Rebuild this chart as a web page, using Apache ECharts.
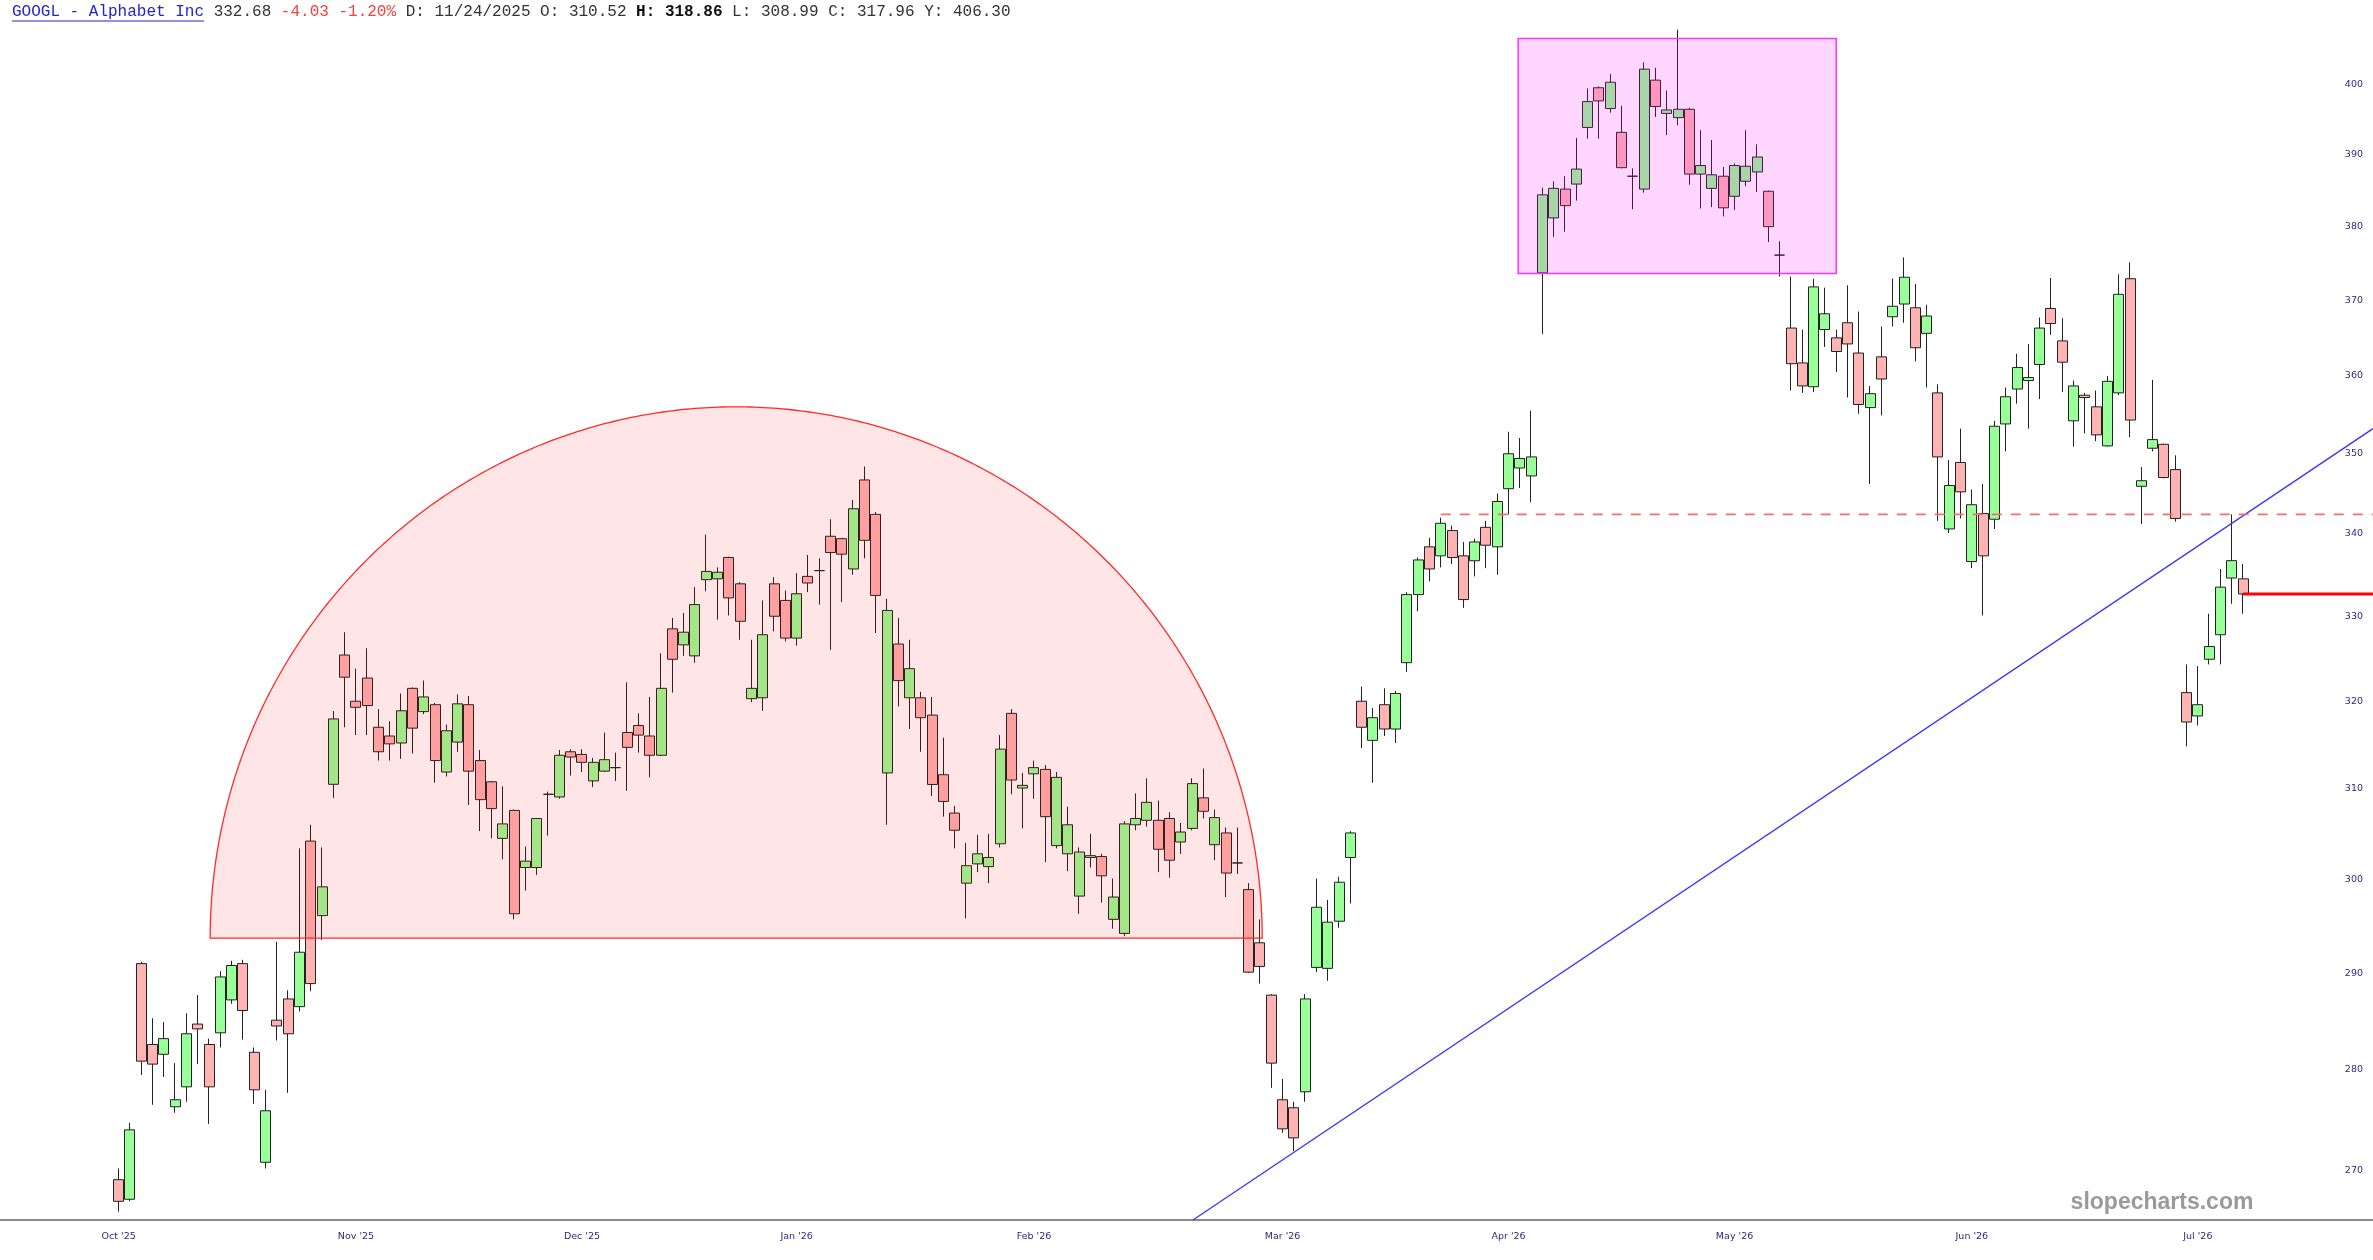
<!DOCTYPE html>
<html><head><meta charset="utf-8">
<script src="https://cdn.jsdelivr.net/npm/echarts@6/dist/echarts.min.js"></script>
<style>html,body{margin:0;padding:0;background:#fff}#c{width:2373px;height:1260px}</style>
</head><body><div id="c"></div>
<script>
// ---- data (candle index 0 = first session shown) ----
const open = [
269.1,267.2,291.0,282.6,281.6,276.3,278.3,284.7,282.6,283.8,
287.2,291.0,281.8,270.8,285.1,287.3,286.5,304.2,296.1,310.52,
325.4,320.0,322.7,317.0,316.0,315.2,321.5,318.8,319.6,311.9,
315.3,319.6,313.2,310.8,304.5,307.6,301.3,301.3,309.4,309.1,
314.2,313.9,310.9,312.0,312.4,316.4,317.2,316.0,313.8,328.5,
326.6,325.3,334.4,334.5,337.1,333.9,320.3,320.4,333.9,331.9,
327.4,334.8,335.5,339.7,339.4,335.7,346.7,342.4,311.8,326.7,
320.4,320.4,318.4,311.6,307.3,299.6,301.7,301.4,303.9,318.6,
310.1,311.7,312.2,303.7,302.8,298.2,302.4,302.5,295.7,294.2,
306.0,306.5,306.5,306.7,304.1,305.6,309.0,303.8,305.1,301.8,
298.9,293.2,287.7,277.0,276.2,277.8,290.6,290.5,295.5,302.4,
320.0,315.5,319.6,316.8,324.5,332.6,338.4,337.3,340.4,337.3,
336.7,340.8,338.4,345.6,348.2,347.2,373.7,381.2,385.2,385.9,
393.9,399.6,396.6,393.2,387.0,385.2,400.7,395.9,395.3,396.5,
387.3,385.3,387.0,384.2,386.3,387.6,384.9,376.1,366.3,361.7,
358.6,366.1,365.0,367.0,363.0,355.9,362.5,367.8,369.5,369.0,
365.6,357.8,340.6,348.9,336.6,342.5,341.8,353.8,358.3,359.4,
361.5,368.9,364.6,354.2,357.5,356.0,351.0,357.8,372.9,345.9,
350.7,351.2,348.0,321.0,318.3,324.9,327.8,334.6,334.5];
const close = [
267.0,274.0,280.9,280.6,283.2,277.0,283.7,284.2,278.3,289.6,
290.8,286.1,278.0,275.9,284.5,283.7,292.2,288.9,299.2,317.96,
322.8,319.3,319.5,314.2,315.1,318.9,316.9,320.5,313.2,316.6,
319.7,312.0,308.8,307.8,306.1,296.3,302.0,306.7,309.4,313.8,
313.6,313.0,313.0,313.3,312.4,314.7,316.1,313.8,321.5,324.9,
328.1,331.4,335.4,335.3,332.2,329.4,321.5,327.8,330.0,327.4,
332.7,334.0,335.5,337.7,337.5,343.1,339.2,332.5,330.7,322.4,
323.8,318.1,310.5,308.6,305.4,301.5,302.8,302.4,314.5,311.0,
310.4,312.4,306.9,311.3,306.0,303.0,302.6,300.4,298.1,306.1,
306.7,308.5,303.3,302.1,305.2,310.6,307.5,306.8,300.7,301.8,
290.1,290.7,280.7,274.1,273.2,287.3,297.0,295.4,299.7,305.1,
317.0,318.1,316.8,320.9,332.6,336.8,335.7,341.3,337.1,332.0,
339.0,338.6,344.0,350.0,349.4,349.6,384.4,385.3,382.9,388.0,
397.6,397.7,400.4,388.2,387.0,402.3,396.9,396.4,396.5,387.3,
388.5,387.2,382.6,388.5,388.4,389.7,380.0,376.1,361.6,358.7,
371.8,368.2,363.2,364.2,356.3,357.7,359.6,369.2,373.1,363.7,
367.9,349.6,346.0,345.2,343.6,337.3,353.5,357.3,361.1,359.8,
366.3,366.9,361.8,358.7,357.2,352.4,359.3,370.8,354.3,346.6,
351.8,347.0,341.9,317.6,319.6,326.4,333.5,336.71,332.68];
const low = [
266.0,267.0,279.5,276.5,279.3,275.7,276.8,280.6,274.6,282.3,
286.8,283.1,276.6,270.2,283.0,277.7,286.0,288.1,293.5,308.99,
317.0,316.1,316.1,313.2,313.2,313.4,314.0,318.5,310.7,311.4,
314.2,308.2,305.3,304.5,302.2,295.7,298.8,300.5,304.8,308.9,
311.5,311.9,310.2,311.9,310.9,309.8,314.1,311.3,313.7,321.0,
325.3,324.5,333.0,329.6,330.1,327.2,319.9,318.9,328.2,327.0,
326.5,332.9,331.4,326.0,331.7,335.0,337.0,328.0,306.0,319.4,
316.8,314.2,309.2,306.9,303.4,295.8,300.8,299.6,303.5,309.4,
305.6,308.9,301.9,303.4,300.9,296.3,301.3,297.5,294.7,293.9,
305.4,305.8,300.8,300.2,302.8,305.4,306.7,302.1,298.1,300.6,
290.0,288.9,278.2,273.7,271.9,276.8,290.1,289.2,294.8,297.4,
314.6,310.7,316.0,315.2,323.4,330.6,334.2,335.9,336.3,331.0,
334.8,335.8,335.0,342.4,345.7,343.9,365.5,378.6,379.3,383.6,
392.3,392.3,396.0,388.1,382.4,384.7,395.4,392.8,394.2,385.8,
382.5,382.7,381.4,382.3,385.6,384.8,377.9,373.2,358.1,357.8,
357.9,363.8,360.5,357.2,355.1,346.2,354.9,366.5,367.0,361.9,
358.5,341.6,340.1,341.9,335.8,330.1,340.6,350.3,356.4,353.2,
357.0,365.4,357.9,350.9,352.6,351.6,350.9,357.5,352.1,341.2,
350.3,346.9,341.5,314.8,317.2,324.3,324.3,331.5,330.3];
const high = [
270.2,274.7,291.2,285.3,284.9,280.7,285.8,287.7,283.2,290.2,
291.3,291.4,282.3,278.0,293.3,288.2,303.4,306.0,303.5,318.86,
328.1,323.8,326.2,319.1,317.7,320.9,321.6,322.4,319.8,317.3,
320.8,320.6,314.4,310.9,310.3,307.7,303.6,306.7,309.7,314.4,
314.5,314.5,313.5,316.4,314.1,322.2,318.6,320.5,325.6,329.8,
330.4,333.5,339.9,335.9,337.2,334.1,327.2,331.9,334.7,333.1,
335.2,337.4,337.0,341.8,339.5,344.2,348.4,342.7,332.1,329.8,
327.2,321.1,320.5,315.8,308.1,304.0,304.9,305.0,316.1,319.1,
311.8,313.2,312.7,311.9,308.0,303.5,305.0,302.8,300.1,306.4,
309.5,311.2,308.7,307.4,306.2,311.2,312.3,307.7,305.7,305.7,
299.6,295.7,287.8,279.1,276.8,287.8,300.1,297.8,300.3,305.3,
321.7,319.2,321.5,321.2,332.9,337.1,339.5,342.0,341.0,339.0,
339.4,341.6,345.0,352.8,352.0,355.5,385.4,386.3,387.0,392.4,
399.5,399.8,401.6,397.0,388.1,403.3,402.5,399.2,408.1,396.7,
393.5,392.1,388.3,388.8,393.5,391.5,385.0,378.0,373.2,366.1,
372.9,371.7,366.1,372.0,368.5,358.7,366.5,372.9,375.8,372.2,
369.4,358.9,349.2,353.2,345.5,346.2,354.2,358.5,362.9,364.2,
367.7,373.0,367.6,359.4,357.8,358.1,360.0,373.5,375.1,348.3,
359.5,351.3,349.8,324.3,324.1,330.3,335.7,342.4,336.3];
const monthTicks = [["Oct '25",0],["Nov '25",21],["Dec '25",41],["Jan '26",60],["Feb '26",81],
  ["Mar '26",103],["Apr '26",123],["May '26",143],["Jun '26",164],["Jul '26",184]];
const yTicks = [270,280,290,300,310,320,330,340,350,360,370,380,390,400];
// annotations (candle index, price)
const semicircle = {left: 8.1, right: 101.2, base: 293.7, top: 356.0};
const box = {left: 123.85, right: 152.0, top: 406.8, bottom: 373.6};
const trend = [[95.07, 265.2], [199.5, 353.2]];
const resistance = {from: 117.0, to: 199.5, price: 342.4};
const lastLine = {from: 188, to: 199.5, price: 332.68};

const PAD_LEFT = 10, PAD_RIGHT = 11;
const N = open.length;
const categories = [];
for (let i = 0; i < PAD_LEFT + N + PAD_RIGHT; i++) categories.push('c' + (i - PAD_LEFT));
const labelMap = {};
monthTicks.forEach(t => { labelMap[t[1] + PAD_LEFT] = t[0]; });
const candleData = open.map((o, i) => [i + PAD_LEFT, o, close[i], low[i], high[i]]);

const chart = echarts.init(document.getElementById('c'), null, {width: 2373, height: 1260});
const MONO = '"Liberation Mono", "DejaVu Sans Mono", monospace';
chart.setOption({
  animation: false,
  backgroundColor: '#ffffff',
  grid: {left: 0, right: 0, top: 0, bottom: 40, containLabel: false},
  xAxis: {
    type: 'category', data: categories, boundaryGap: true,
    axisLine: {show: true, lineStyle: {color: '#8a8a8a', width: 2}},
    axisTick: {show: false}, splitLine: {show: false},
    axisLabel: {
      interval: (idx) => labelMap[idx] !== undefined,
      formatter: (v, idx) => labelMap[idx] || '',
      color: '#2a2a80', fontSize: 9.5, fontFamily: '"DejaVu Sans", sans-serif', margin: 12
    }
  },
  yAxis: {
    type: 'log', logBase: 10, min: 265.2, max: 412.5, position: 'right',
    axisLine: {show: false}, axisTick: {show: false}, splitLine: {show: false},
    axisLabel: {inside: true, margin: 10, customValues: yTicks, color: '#2a2a80',
      fontSize: 9.5, fontFamily: '"DejaVu Sans", sans-serif'}
  },
  series: [
    {
      type: 'candlestick', data: candleData, encode: {x: 0, y: [1, 2, 3, 4]},
      barWidth: 10.5, z: 2,
      itemStyle: {color: '#99ff99', color0: '#ffb3b3', borderColor: '#222222', borderColor0: '#222222', borderWidth: 1}
    },
    {
      type: 'custom', z: 5, silent: true, clip: false,
      data: [[PAD_LEFT, 300]], encode: {x: 0, y: 1},
      renderItem: function (params, api) {
        const bw = api.size([1, 0], [PAD_LEFT, 300])[0];
        function pt(idx, price) {
          const i = idx + PAD_LEFT, i0 = Math.floor(i);
          const p = api.coord([i0, price]);
          return [p[0] + (i - i0) * bw, p[1]];
        }
        const children = [];
        // semicircle
        const xl = pt(semicircle.left, semicircle.base)[0];
        const xr = pt(semicircle.right, semicircle.base)[0];
        const yb = pt(0, semicircle.base)[1];
        const yt = pt(0, semicircle.top)[1];
        const cx = (xl + xr) / 2, rx = (xr - xl) / 2, ry = yb - yt;
        const pts = [];
        for (let k = 0; k <= 360; k++) {
          const a = Math.PI * k / 360;
          pts.push([cx - rx * Math.cos(a), yb - ry * Math.sin(a)]);
        }
        children.push({type: 'polygon', shape: {points: pts},
          style: {fill: 'rgba(255,0,0,0.1)', stroke: '#ff2a2a', lineWidth: 1.3}});
        // box
        const b1 = pt(box.left, box.top), b2 = pt(box.right, box.bottom);
        children.push({type: 'rect', shape: {x: b1[0], y: b1[1], width: b2[0] - b1[0], height: b2[1] - b1[1]},
          style: {fill: 'rgba(255,0,255,0.16)', stroke: '#ff33ff', lineWidth: 1.5}});
        // trend line
        const t1 = pt(trend[0][0], trend[0][1]), t2 = pt(trend[1][0], trend[1][1]);
        children.push({type: 'line', shape: {x1: t1[0], y1: t1[1], x2: t2[0], y2: t2[1]},
          style: {stroke: '#3535ff', lineWidth: 1.3}});
        // resistance dashed
        const r1 = pt(resistance.from, resistance.price), r2 = pt(resistance.to, resistance.price);
        children.push({type: 'line', shape: {x1: r1[0], y1: r1[1], x2: r2[0], y2: r2[1]},
          style: {stroke: '#ff6a6a', lineWidth: 1.6, lineDash: [10, 9]}});
        // last price line
        const l1 = pt(lastLine.from, lastLine.price), l2 = pt(lastLine.to, lastLine.price);
        children.push({type: 'line', shape: {x1: l1[0], y1: l1[1], x2: l2[0], y2: l2[1]},
          style: {stroke: '#ff0000', lineWidth: 3}});
        return {type: 'group', children: children};
      }
    }
  ],
  graphic: [
    {type: 'text', x: 12, y: 12, z: 10,
      style: {
        text: '{a|GOOGL - Alphabet Inc} {b|332.68} {r|-4.03 -1.20%} {b|D: 11/24/2025 O: 310.52} {h|H: 318.86} {b|L: 308.99 C: 317.96 Y: 406.30}',
        verticalAlign: 'middle', font: '16px ' + MONO,
        rich: {
          a: {fill: '#2424c8', font: '16px ' + MONO},
          b: {fill: '#333333', font: '16px ' + MONO},
          r: {fill: '#ff3b3b', font: '16px ' + MONO},
          h: {fill: '#111111', font: 'bold 16px ' + MONO}
        }
      }},
    {type: 'line', z: 10, shape: {x1: 12, y1: 21, x2: 204, y2: 21}, style: {stroke: '#2424c8', lineWidth: 1.2}},
    {type: 'text', x: 2162, y: 1203, z: 10,
      style: {text: 'slopecharts.com', align: 'center', verticalAlign: 'middle',
        font: 'bold 23px "Liberation Sans", Arial, sans-serif', fill: '#9a9a9a'}}
  ]
});
</script>
</body></html>
